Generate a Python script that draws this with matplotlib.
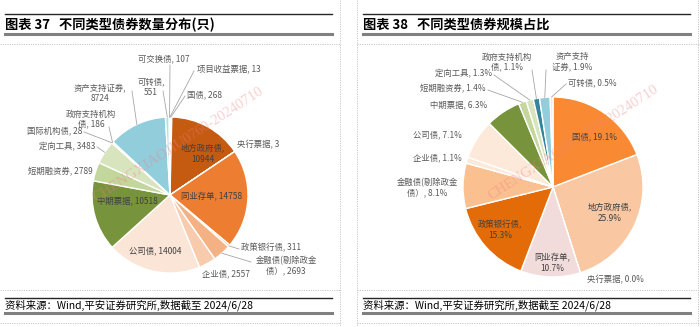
import matplotlib.pyplot as plt
import numpy as np

plt.rcParams['font.family'] = ['Noto Sans CJK SC', 'DejaVu Sans']

W, H = 700, 327

# 图表37: 不同类型债券数量(只)
cnt_names = ['国债', '地方政府债', '央行票据', '同业存单', '政策银行债', '金融债(剔除政金债）',
             '企业债', '公司债', '中期票据', '短期融资券', '定向工具', '国际机构债',
             '政府支持机构债', '资产支持证券', '可转债', '可交换债', '项目收益票据']
cnt_values = [268, 10944, 3, 14758, 311, 2693, 2557, 14004, 10518, 2789, 3483, 28,
              186, 8724, 551, 107, 13]
cnt_colors = ['#FBE5D6', '#C55A11', '#F4B183', '#ED7D31', '#F4B183', '#F4B183',
              '#F8CBAD', '#FBE5D6', '#77933C', '#C3D69B', '#D7E4BD', '#A9D18E',
              '#31859C', '#92CDDC', '#B7DEE8', '#DAEEF3', '#DAEEF3']

# 图表38: 不同类型债券规模占比(%)
share_names = ['国债', '地方政府债', '央行票据', '同业存单', '政策银行债', '金融债(剔除政金债）',
               '企业债', '公司债', '中期票据', '短期融资券', '定向工具', '政府支持机构债',
               '资产支持证券', '可转债']
share_values = [19.1, 25.9, 0.0, 10.7, 15.3, 8.1, 1.1, 7.1, 6.3, 1.4, 1.3, 1.1, 1.9, 0.5]
share_colors = ['#F98A33', '#F9C7A1', '#F9C7A1', '#F2DCDB', '#E36C09', '#FAC090',
                '#FDE9D9', '#FDE9D9', '#77933C', '#C3D69B', '#D7E4BD', '#31859C',
                '#92CDDC', '#DAEEF3']

# 标签版式: 名称 -> (文字模板, x, y, 对齐, 引线起点, 是否在扇区内)
cnt_layout = {
    '国债': ('{n}, {v}', 187, 95, 'left', (185, 96), False),
    '地方政府债': ('{n},\n{v}', 203, 154, 'center', None, True),
    '央行票据': ('{n}, {v}', 237, 145, 'left', None, False),
    '同业存单': ('{n}, {v}', 212, 197, 'center', None, True),
    '政策银行债': ('{n}, {v}', 241, 248, 'left', (239, 249), False),
    '金融债(剔除政金债）': ('金融债(剔除政金\n债）, {v}', 286, 266, 'center', (251, 262), False),
    '企业债': ('{n}, {v}', 226, 274, 'center', None, False),
    '公司债': ('{n}, {v}', 155, 251, 'center', None, True),
    '中期票据': ('{n}, {v}', 127, 201, 'center', None, True),
    '短期融资券': ('{n}, {v}', 93, 172, 'right', None, False),
    '定向工具': ('{n}, {v}', 95, 147, 'right', (97, 147), False),
    '国际机构债': ('{n}, {v}', 82, 131, 'right', (84, 132), False),
    '政府支持机构债': ('政府支持机构\n债, {v}', 91, 119, 'center', (109, 127), False),
    '资产支持证券': ('{n},\n{v}', 100, 93, 'center', (132, 91), False),
    '可转债': ('{n},\n{v}', 151, 87, 'center', (163, 91), False),
    '可交换债': ('{n}, {v}', 164, 59, 'center', (170, 65), False),
    '项目收益票据': ('{n}, {v}', 197, 70, 'left', (194, 71), False),
}

share_layout = {
    '国债': ('{n}, {v}', 594, 137, 'center', None, True),
    '地方政府债': ('{n},\n{v}', 610, 213, 'center', None, True),
    '央行票据': ('{n}, {v}', 587, 280, 'left', None, False),
    '同业存单': ('{n},\n{v}', 552, 263, 'center', None, True),
    '政策银行债': ('{n},\n{v}', 500, 230, 'center', None, True),
    '金融债(剔除政金债）': ('金融债(剔除政金\n债）, {v}', 427, 188, 'center', None, False),
    '企业债': ('{n}, {v}', 462, 158, 'right', None, False),
    '公司债': ('{n}, {v}', 462, 135, 'right', None, False),
    '中期票据': ('{n}, {v}', 487, 105, 'right', None, False),
    '短期融资券': ('{n}, {v}', 486, 89, 'right', (488, 90), False),
    '定向工具': ('{n}, {v}', 492, 74, 'right', (494, 75), False),
    '政府支持机构债': ('政府支持机构\n债, {v}', 507, 62, 'center', (532, 70), False),
    '资产支持证券': ('资产支持\n证券, {v}', 572, 62, 'center', (546, 70), False),
    '可转债': ('{n}, {v}', 568, 83, 'left', (566, 84), False),
}

fig = plt.figure(figsize=(W / 100, H / 100), dpi=100)
fig.patch.set_facecolor('white')


def pie_panel(cx, cy, r, values, names, colors, layout, fmt, over):
    ax = fig.add_axes([(cx - r) / W, (H - cy - r) / H, 2 * r / W, 2 * r / H])
    wedges, _ = ax.pie(values, colors=colors, startangle=90, counterclock=False,
                       wedgeprops=dict(edgecolor='white', linewidth=1.0))
    ax.set_xlim(-1, 1)
    ax.set_ylim(-1, 1)
    ax.axis('off')
    for w, n, v in zip(wedges, names, values):
        if n not in layout:
            continue
        tpl, tx, ty, ha, lstart, inside = layout[n]
        s = tpl.format(n=n, v=fmt(v))
        col = '#404040' if inside else '#595959'
        over.text(tx, ty, s, ha=ha, va='center', fontsize=6, color=col,
                  linespacing=1.15, multialignment='center')
        if lstart is not None:
            mid = np.deg2rad((w.theta1 + w.theta2) / 2)
            px = cx + r * np.cos(mid)
            py = cy - r * np.sin(mid)
            over.plot([lstart[0], px], [lstart[1], py], color='#A6A6A6', lw=0.6)


over = fig.add_axes([0, 0, 1, 1], zorder=10)
over.set_xlim(0, W)
over.set_ylim(H, 0)
over.axis('off')
over.patch.set_alpha(0)

pie_panel(170, 195, 78, cnt_values, cnt_names, cnt_colors, cnt_layout,
          lambda v: str(v), over)
pie_panel(553, 187, 90, share_values, share_names, share_colors, share_layout,
          lambda v: f'{v:.1f}%', over)

# 标题栏和资料来源
for x0, x1, title in [(5, 332, '图表 37   不同类型债券数量分布(只)'),
                      (363, 690, '图表 38   不同类型债券规模占比')]:
    over.plot([x0, x1], [14, 14], color='#262626', lw=1.0)
    over.plot([x0, x1], [34, 34], color='#808080', lw=2.2)
    over.text(x0, 24.5, title, ha='left', va='center', fontsize=9.5,
              fontweight='bold', color='black')
    over.plot([x0, x1], [297.5, 297.5], color='#262626', lw=1.0)
    over.plot([x0, x1], [313, 313], color='#808080', lw=2.2)
    over.text(x0, 305, '资料来源：Wind,平安证券研究所,数据截至 2024/6/28', ha='left',
              va='center', fontsize=7.5, color='black', style='italic')

# 虚线边框
dot = dict(color='#C8C8C8', lw=0.7, linestyle=(0, (1.2, 1.2)))
for y in [44, 290, 323]:
    over.plot([0, 340], [y, y], **dot)
    over.plot([357, 700], [y, y], **dot)
for x in [340, 357, 698]:
    over.plot([x, x], [0, H], **dot)

# 水印
for x, y in [(178, 145), (573, 143)]:
    over.text(x, y, 'CHENGXIAOJIU0760-20240710', rotation=33, ha='center',
              va='center', fontsize=10.5, color='#F08080', alpha=0.38,
              family='Liberation Serif')

fig.savefig('out.png', dpi=100)
